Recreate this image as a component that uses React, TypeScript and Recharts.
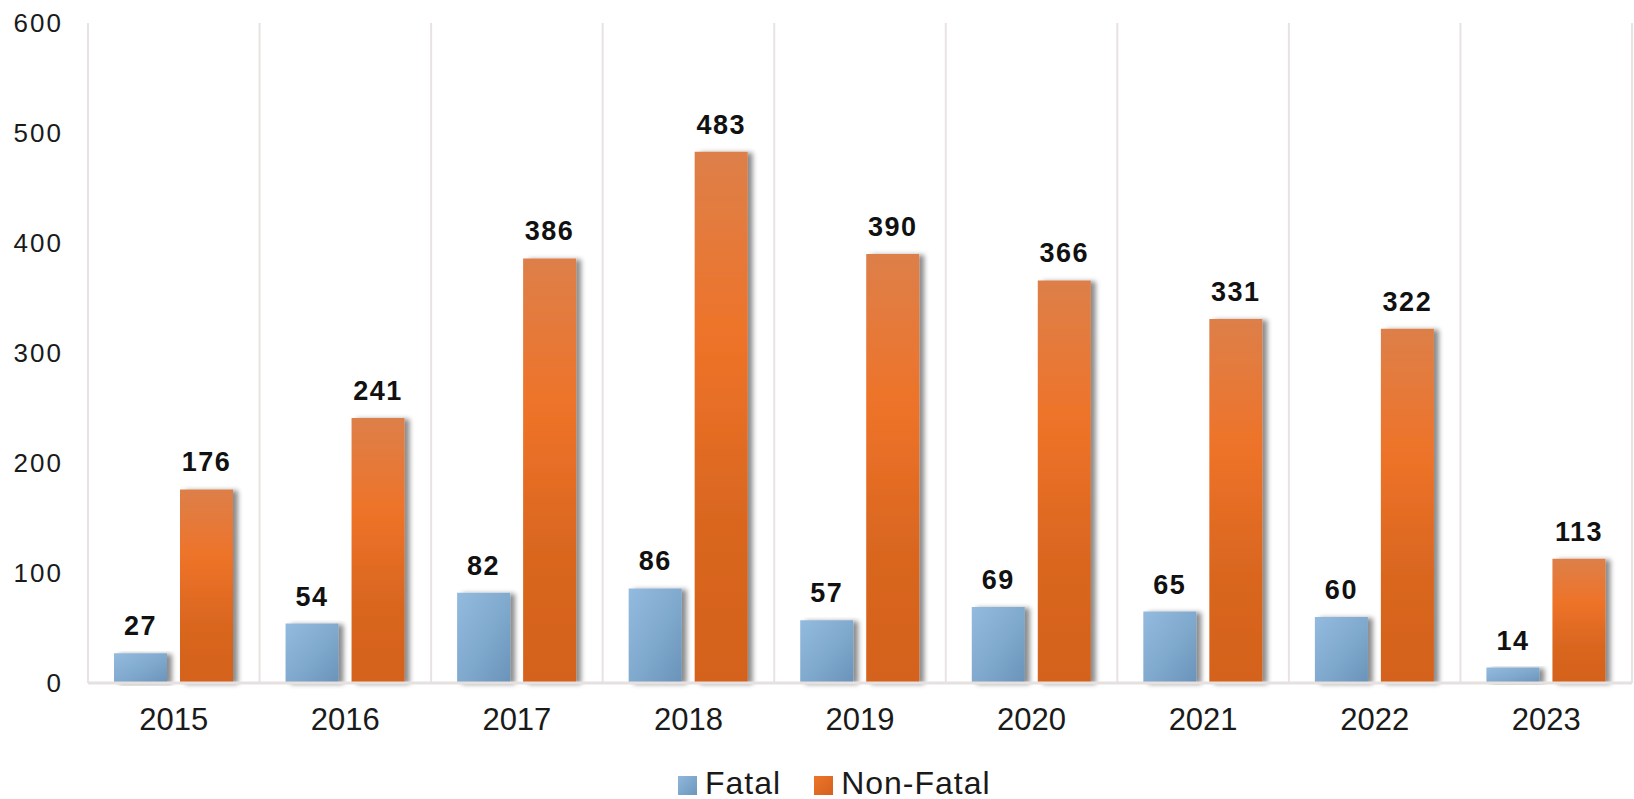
import { BarChart, Bar, XAxis, YAxis, CartesianGrid, Legend, LabelList } from "recharts";

const years = ["2015", "2016", "2017", "2018", "2019", "2020", "2021", "2022", "2023"];
const fatal = [27, 54, 82, 86, 57, 69, 65, 60, 14];
const nonFatal = [176, 241, 386, 483, 390, 366, 331, 322, 113];
const yTicks = [0, 100, 200, 300, 400, 500, 600];

const data = years.map((year, i) => ({ year, fatal: fatal[i], nonFatal: nonFatal[i] }));

const FONT = "Arial, 'Liberation Sans', sans-serif";

const legendItems = [
  { name: "Fatal", swatch: "linear-gradient(135deg, #90b8dc, #6c96bc)" },
  { name: "Non-Fatal", swatch: "linear-gradient(135deg, #ee7529, #d4611e)" },
];

const LegendContent = () => (
  <div style={{ display: "flex", alignItems: "center", fontFamily: FONT, paddingLeft: 678, paddingTop: 24 }}>
    {legendItems.map((item) => (
      <div key={item.name} style={{ display: "flex", alignItems: "center", height: 19, marginRight: 33 }}>
        <span
          style={{
            width: 19,
            height: 19,
            background: item.swatch,
            display: "inline-block",
            marginRight: 8,
            position: "relative",
            top: 3,
          }}
        />
        <span style={{ fontSize: 32, lineHeight: "32px", letterSpacing: 1, color: "#1a1a1a" }}>{item.name}</span>
      </div>
    ))}
  </div>
);

export default function App() {
  return (
    <div style={{ position: "absolute", left: 0, top: 0, background: "#fff" }}>
      <BarChart
        width={1634}
        height={799}
        data={data}
        margin={{ top: 23, right: 2, left: 0, bottom: 0 }}
        barSize={53}
        barGap={13}
      >
        <defs>
          <linearGradient id="blueGrad" x1="0" y1="0" x2="1" y2="1">
            <stop offset="0%" stopColor="#93bbde" />
            <stop offset="55%" stopColor="#7fa8cd" />
            <stop offset="100%" stopColor="#6a93b9" />
          </linearGradient>
          <linearGradient id="orangeGrad" x1="0" y1="0" x2="0" y2="1">
            <stop offset="0%" stopColor="#dd7f49" />
            <stop offset="35%" stopColor="#ee7329" />
            <stop offset="70%" stopColor="#d9661f" />
            <stop offset="100%" stopColor="#d4621e" />
          </linearGradient>
          <filter id="barShadow" x="-20%" y="-5%" width="150%" height="115%">
            <feDropShadow dx="5" dy="1" stdDeviation="2.5" floodColor="#000" floodOpacity="0.45" />
          </filter>
        </defs>
        <CartesianGrid
          horizontal={false}
          stroke="#e9e2e2"
          strokeWidth={2}
          verticalCoordinatesGenerator={({ offset }: any) =>
            Array.from({ length: years.length + 1 }, (_, i) => offset.left + (i * offset.width) / years.length)
          }
        />
        <XAxis
          dataKey="year"
          axisLine={{ stroke: "#e6e0e0", strokeWidth: 3 }}
          tickLine={false}
          tickSize={0}
          tickMargin={25}
          height={66}
          tick={{ fontSize: 31, fill: "#1a1a1a", fontFamily: FONT }}
        />
        <YAxis
          domain={[0, 600]}
          ticks={yTicks}
          axisLine={false}
          tickLine={false}
          tickSize={0}
          tickMargin={25}
          width={88}
          tick={{ fontSize: 26, fill: "#1a1a1a", fontFamily: FONT, letterSpacing: 2 }}
        />
        <Legend verticalAlign="bottom" height={50} content={<LegendContent />} />
        <Bar dataKey="fatal" name="Fatal" fill="url(#blueGrad)" filter="url(#barShadow)" isAnimationActive={false}>
          <LabelList
            dataKey="fatal"
            position="top"
            offset={18}
            style={{ fontSize: 27, fontWeight: 700, fill: "#111", fontFamily: FONT, letterSpacing: 1.5 }}
          />
        </Bar>
        <Bar dataKey="nonFatal" name="Non-Fatal" fill="url(#orangeGrad)" filter="url(#barShadow)" isAnimationActive={false}>
          <LabelList
            dataKey="nonFatal"
            position="top"
            offset={18}
            style={{ fontSize: 27, fontWeight: 700, fill: "#111", fontFamily: FONT, letterSpacing: 1.5 }}
          />
        </Bar>
      </BarChart>
    </div>
  );
}
